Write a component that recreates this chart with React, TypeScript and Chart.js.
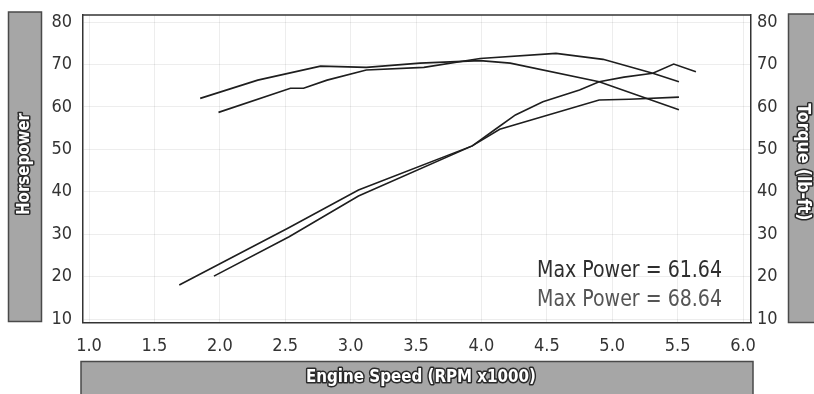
import React, { useEffect, useRef } from 'react';
import { Chart, registerables } from 'chart.js';
Chart.register(...registerables);

const rpmTicks = [1.0, 1.5, 2.0, 2.5, 3.0, 3.5, 4.0, 4.5, 5.0, 5.5, 6.0];
const valueTicks = [10, 20, 30, 40, 50, 60, 70, 80];

const powerA_rpm = [1.69, 2.52, 3.06, 3.93, 4.14, 4.9, 5.13, 5.51];
const powerA_hp = [18.0, 31.4, 40.4, 50.8, 54.7, 61.6, 61.8, 62.3];
const powerB_rpm = [1.955, 2.53, 3.06, 3.93, 4.115, 4.26, 4.47, 4.75, 4.9, 5.09, 5.31, 5.47, 5.64];
const powerB_hp = [20.1, 29.4, 39.0, 50.8, 54.9, 58.1, 61.2, 64.0, 65.9, 67.0, 67.9, 70.1, 68.3];
const torqueA_rpm = [1.85, 2.29, 2.77, 3.12, 3.53, 3.99, 4.22, 4.9, 5.51];
const torqueA_lbft = [62.0, 66.3, 69.6, 69.3, 70.3, 70.9, 70.3, 65.9, 59.3];
const torqueB_rpm = [1.99, 2.54, 2.64, 2.82, 3.12, 3.56, 3.99, 4.57, 4.93, 5.31, 5.51];
const torqueB_lbft = [58.7, 64.4, 64.4, 66.3, 68.7, 69.3, 71.4, 72.6, 71.2, 67.9, 65.9];

const annotationLines = ['Max Power = 61.64', 'Max Power = 68.64'];
const leftTitle = 'Horsepower';
const rightTitle = 'Torque (lb-ft)';
const bottomTitle = 'Engine Speed (RPM x1000)';

const FONT = '"Liberation Sans Narrow", "DejaVu Sans Condensed", "Liberation Sans", sans-serif';

const toPoints = (xs: number[], ys: number[]) => xs.map((x, i) => ({ x, y: ys[i] }));

function drawFitted(ctx: CanvasRenderingContext2D, text: string, cx: number, cy: number, rot: number, len: number, size: number) {
  ctx.save();
  ctx.translate(cx, cy);
  ctx.rotate(rot);
  ctx.font = `bold ${size}px ${FONT}`;
  const w = ctx.measureText(text).width;
  ctx.scale(len / w, 1);
  ctx.textAlign = 'center';
  ctx.textBaseline = 'middle';
  ctx.lineJoin = 'round';
  ctx.lineWidth = 3;
  ctx.strokeStyle = '#2a2a2a';
  ctx.strokeText(text, 0, 0);
  ctx.fillStyle = '#ffffff';
  ctx.fillText(text, 0, 0);
  ctx.restore();
}

function box(ctx: CanvasRenderingContext2D, x: number, y: number, w: number, h: number) {
  ctx.save();
  ctx.fillStyle = '#a6a6a6';
  ctx.fillRect(x, y, w, h);
  ctx.strokeStyle = '#4a4a4a';
  ctx.lineWidth = 1.5;
  ctx.strokeRect(x, y, w, h);
  ctx.restore();
}

const decor = {
  id: 'decor',
  beforeDraw(chart: any) {
    const ctx = chart.ctx as CanvasRenderingContext2D;
    ctx.save();
    ctx.fillStyle = '#ffffff';
    ctx.fillRect(0, 0, chart.width, chart.height);
    ctx.restore();
    const a = chart.chartArea;
    box(ctx, 8.5, a.top - 3, 33, a.bottom - a.top + 2);
    box(ctx, 788.5, a.top - 1, 40, a.bottom - a.top + 1);
    box(ctx, a.left - 2, 361.5, a.right - a.left + 4, 40);
    drawFitted(ctx, leftTitle, 25, 164, -Math.PI / 2, 102, 17);
    drawFitted(ctx, rightTitle, 802, 162, Math.PI / 2, 117, 17);
    drawFitted(ctx, bottomTitle, 421, 378, 0, 230, 17);
  },
  afterDraw(chart: any) {
    const ctx = chart.ctx as CanvasRenderingContext2D;
    const a = chart.chartArea;
    ctx.save();
    ctx.strokeStyle = '#333';
    ctx.lineWidth = 1.5;
    ctx.beginPath();
    ctx.moveTo(a.left, a.top);
    ctx.lineTo(a.right, a.top);
    ctx.stroke();
    ctx.textAlign = 'right';
    ctx.textBaseline = 'alphabetic';
    const colors = ['#2e2e2e', '#555555'];
    annotationLines.forEach((t, i) => {
      ctx.save();
      ctx.font = `23px ${FONT}`;
      const w = ctx.measureText(t).width;
      const right = a.right - 29;
      const baseline = a.bottom - 46 + i * 29;
      ctx.translate(right, baseline);
      ctx.scale(185 / w, 1);
      ctx.fillStyle = colors[i];
      ctx.fillText(t, 0, 0);
      ctx.restore();
    });
    ctx.restore();
  },
};

const lineStyle = {
  borderColor: '#1e1e1e',
  borderWidth: 1.6,
  pointRadius: 0,
  tension: 0,
  fill: false,
};

const zeroPad = (s: any) => {
  s.paddingTop = 0;
  s.paddingBottom = 0;
  s.paddingLeft = 0;
  s.paddingRight = 0;
};

export default function App() {
  const ref = useRef<HTMLCanvasElement | null>(null);
  useEffect(() => {
    if (!ref.current) return;
    const tickFont = { family: FONT, size: 18 };
    const grid = { color: 'rgba(0,0,0,0.07)', drawTicks: false, lineWidth: 1 };
    const chart = new Chart(ref.current, {
      type: 'line',
      data: {
        datasets: [
          { label: 'Power A', data: toPoints(powerA_rpm, powerA_hp), yAxisID: 'y', ...lineStyle },
          { label: 'Power B', data: toPoints(powerB_rpm, powerB_hp), yAxisID: 'y', ...lineStyle },
          { label: 'Torque A', data: toPoints(torqueA_rpm, torqueA_lbft), yAxisID: 'y2', ...lineStyle },
          { label: 'Torque B', data: toPoints(torqueB_rpm, torqueB_lbft), yAxisID: 'y2', ...lineStyle },
        ],
      },
      options: {
        responsive: false,
        animation: false,
        devicePixelRatio: 1,
        layout: { padding: { top: 15, left: 0, right: 0, bottom: 0 } },
        plugins: { legend: { display: false }, tooltip: { enabled: false } },
        scales: {
          x: {
            type: 'linear',
            min: 0.954,
            max: 6.061,
            afterBuildTicks: (s: any) => { s.ticks = rpmTicks.map((v) => ({ value: v })); },
            afterFit: (s: any) => { s.height = 394 - 322.5; zeroPad(s); },
            ticks: {
              autoSkip: false,
              maxRotation: 0,
              padding: 13,
              color: '#333',
              font: tickFont,
              callback: (v: any) => Number(v).toFixed(1),
            },
            grid,
            border: { color: '#333', width: 1.5 },
          },
          y: {
            type: 'linear',
            position: 'left',
            min: 9.18,
            max: 81.65,
            afterBuildTicks: (s: any) => { s.ticks = valueTicks.map((v) => ({ value: v })); },
            afterFit: (s: any) => { s.width = 83; zeroPad(s); },
            ticks: { autoSkip: false, padding: 11, color: '#333', font: tickFont },
            grid,
            border: { color: '#333', width: 1.5 },
          },
          y2: {
            type: 'linear',
            position: 'right',
            min: 9.18,
            max: 81.65,
            afterBuildTicks: (s: any) => { s.ticks = valueTicks.map((v) => ({ value: v })); },
            afterFit: (s: any) => { s.width = 63; zeroPad(s); },
            ticks: { autoSkip: false, padding: 6, color: '#333', font: tickFont },
            grid: { display: false, drawTicks: false },
            border: { color: '#333', width: 1.5 },
          },
        },
      },
      plugins: [decor],
    } as any);
    return () => chart.destroy();
  }, []);
  return (
    <div style={{ position: 'absolute', left: 0, top: 0, width: 814, height: 394 }}>
      <canvas ref={ref} width={814} height={394} style={{ display: 'block' }} />
    </div>
  );
}
